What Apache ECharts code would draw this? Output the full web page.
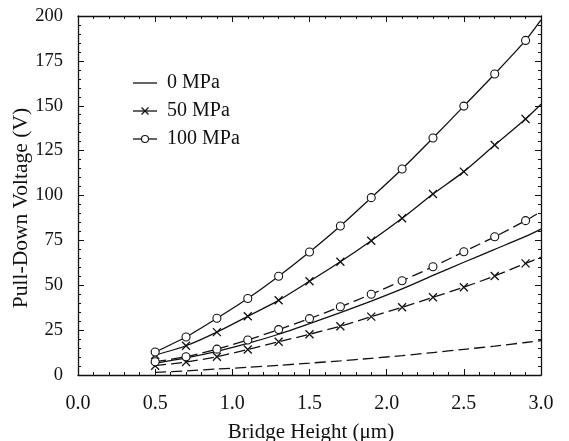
<!DOCTYPE html>
<html>
<head>
<meta charset="utf-8">
<script src="https://cdn.jsdelivr.net/npm/echarts@6/dist/echarts.min.js"></script>
<style>
html,body{margin:0;padding:0;background:#fff;}
#chart{width:569px;height:441px;}
</style>
</head>
<body>
<div id="chart"></div>
<script>
// Bridge height (µm) sample points; last point (3.0) is the line end without a marker
var bridgeHeight = [0.5, 0.7, 0.9, 1.1, 1.3, 1.5, 1.7, 1.9, 2.1, 2.3, 2.5, 2.7, 2.9, 3.0];

// Solid curves
var solid0   = [6.5, 9.5, 13.2, 17.6, 22.7, 28.6, 34.7, 41.2, 48.0, 55.5, 62.8, 70.0, 77.2, 81.3];
var solid50  = [11.1, 16.3, 23.9, 32.7, 41.6, 52.2, 63.1, 74.8, 87.3, 100.8, 113.3, 128.1, 142.6, 150.8];
var solid100 = [12.8, 21.2, 31.6, 42.6, 55.0, 68.5, 83.0, 98.8, 114.8, 132.0, 149.8, 167.7, 186.4, 197.8];

// Dashed curves
var dashed0   = [1.5, 2.3, 3.3, 4.3, 5.4, 6.6, 7.9, 9.3, 10.8, 12.5, 14.3, 16.1, 18.1, 19.1];
var dashed50  = [5.2, 7.2, 10.2, 14.2, 18.5, 22.7, 27.2, 32.5, 37.7, 43.3, 48.9, 55.2, 62.2, 65.6];
var dashed100 = [7.4, 10.2, 14.4, 19.5, 25.3, 31.4, 38.0, 45.0, 52.5, 60.3, 68.7, 77.0, 86.0, 91.0];

var legendNames = ['0 MPa', '50 MPa', '100 MPa'];
var xTitle = 'Bridge Height (\u03bcm)';
var yTitle = 'Pull-Down Voltage (V)';

var FONT = 'Liberation Serif';
var INK = '#111';
var xMarkPath = 'path://M0,0L10,10M10,0L0,10';

function build(vals, withMarkers) {
  var last = vals.length - 1;
  return vals.map(function (v, i) {
    if (withMarkers && i === last) return { value: [bridgeHeight[i], v], symbol: 'none' };
    return [bridgeHeight[i], v];
  });
}

function mk(name, vals, symbol, dashed) {
  var circle = symbol === 'circle';
  return {
    name: name,
    type: 'line',
    data: build(vals, symbol !== 'none'),
    smooth: 0.25,
    symbol: symbol,
    symbolSize: circle ? 8 : 8,
    showAllSymbol: true,
    lineStyle: { color: INK, width: 1.3, type: dashed ? [11, 5] : 'solid' },
    itemStyle: { color: circle ? '#fff' : INK, borderColor: INK, borderWidth: circle ? 1.1 : 1.3 },
    emphasis: { disabled: true },
    animation: false,
    z: 3
  };
}

var axisCommon = {
  axisLine: { show: true, onZero: false, lineStyle: { color: INK, width: 1.3 } },
  axisTick: { show: true, inside: true, length: 6, lineStyle: { color: INK, width: 1 } },
  minorTick: { show: true, splitNumber: 5, length: 3, lineStyle: { color: INK, width: 1 } },
  splitLine: { show: false },
  minorSplitLine: { show: false }
};

function axis(extra) {
  return Object.assign({}, JSON.parse(JSON.stringify(axisCommon)), extra);
}

// Legend drawn as graphic elements (line sample + marker + label)
var LX1 = 133, LX2 = 157, LTX = 167;
var legendRows = [83, 111, 139];
var legendGraphics = [];
legendNames.forEach(function (name, i) {
  var y = legendRows[i];
  legendGraphics.push({ type: 'line', silent: true, shape: { x1: LX1, y1: y, x2: LX2, y2: y },
    style: { stroke: INK, lineWidth: 1.3 } });
  var cx = (LX1 + LX2) / 2;
  if (i === 1) {
    legendGraphics.push({ type: 'polyline', silent: true, shape: { points: [[cx - 3.5, y - 3.5], [cx + 3.5, y + 3.5]] },
      style: { stroke: INK, lineWidth: 1.3, fill: null } });
    legendGraphics.push({ type: 'polyline', silent: true, shape: { points: [[cx + 3.5, y - 3.5], [cx - 3.5, y + 3.5]] },
      style: { stroke: INK, lineWidth: 1.3, fill: null } });
  } else if (i === 2) {
    legendGraphics.push({ type: 'circle', silent: true, shape: { cx: cx, cy: y, r: 3.5 },
      style: { stroke: INK, lineWidth: 1.1, fill: '#fff' } });
  }
  legendGraphics.push({ type: 'text', silent: true, x: LTX, y: y,
    style: { text: name, font: '20px "Liberation Serif"', fill: INK, align: 'left', verticalAlign: 'middle' } });
});

var chart = echarts.init(document.getElementById('chart'), null, { renderer: 'canvas' });
chart.setOption({
  animation: false,
  backgroundColor: '#fff',
  grid: { left: 78, right: 28, top: 16, bottom: 66, containLabel: false },
  xAxis: [
    axis({
      type: 'value', position: 'bottom', min: 0, max: 3, interval: 0.5,
      axisLabel: { show: true, margin: 19, fontFamily: FONT, fontSize: 20, color: INK,
        formatter: function (v) { return v.toFixed(1); } }
    }),
    axis({
      type: 'value', position: 'top', min: 0, max: 3, interval: 0.5,
      axisLabel: { show: false }
    })
  ],
  yAxis: [
    axis({
      type: 'value', position: 'left', min: 0, max: 200, interval: 25,
      axisLabel: { show: true, margin: 15, fontFamily: FONT, fontSize: 18.5, color: INK }
    }),
    axis({
      type: 'value', position: 'right', min: 0, max: 200, interval: 25,
      axisLabel: { show: false }
    })
  ],
  graphic: [
    { type: 'text', x: 311, y: 432, silent: true,
      style: { text: xTitle, font: '21px "Liberation Serif"', fill: INK, align: 'center', verticalAlign: 'middle' } },
    { type: 'text', x: 21, y: 208, rotation: Math.PI / 2, silent: true,
      style: { text: yTitle, font: '21.5px "Liberation Serif"', fill: INK, align: 'center', verticalAlign: 'middle' } }
  ].concat(legendGraphics),
  series: [
    mk('0 MPa', solid0, 'none', false),
    mk('50 MPa', solid50, xMarkPath, false),
    mk('100 MPa', solid100, 'circle', false),
    mk('0 MPa dashed', dashed0, 'none', true),
    mk('50 MPa dashed', dashed50, xMarkPath, true),
    mk('100 MPa dashed', dashed100, 'circle', true)
  ]
});
</script>
</body>
</html>
